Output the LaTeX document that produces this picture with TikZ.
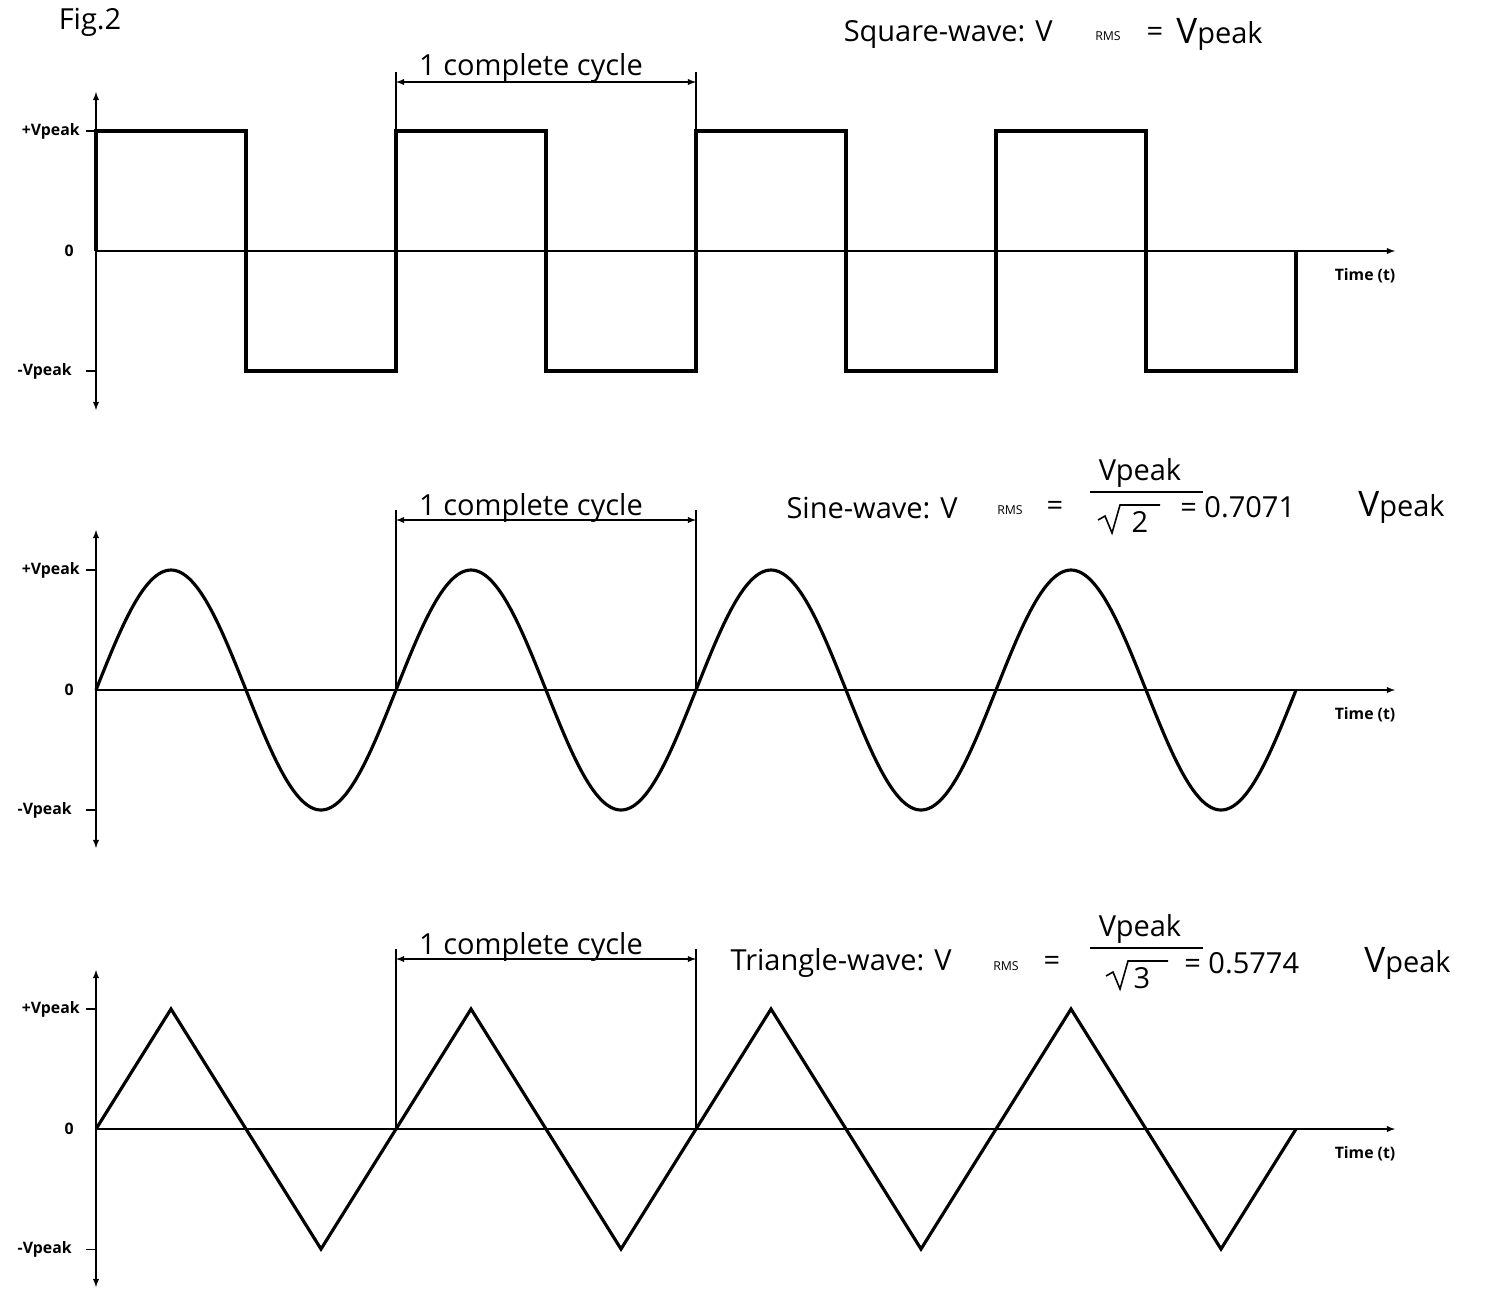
\documentclass[tikz,border=0pt]{standalone}
\usepackage{fontspec}
\setmainfont{Open Sans}
\begin{document}
\begin{tikzpicture}[x=0.02cm,y=-0.02cm,
 wave/.style={line width=1.8pt,line join=miter},
 ax/.style={line width=0.6pt,-latex},
 dax/.style={line width=0.6pt,latex-latex},
 thin/.style={line width=0.6pt},
 lab/.style={font=\fontsize{9}{10}\selectfont\bfseries,inner sep=0},
 big/.style={font=\fontsize{16.5}{18}\selectfont,inner sep=0},
 rms/.style={font=\fontsize{7}{8}\selectfont,inner sep=0}]
\useasboundingbox (0,0) rectangle (1486,1289);
\node[big] (fig) at (90,22) {Fig.2};
% ---------- Square ----------
\draw[dax] (96,92) -- (96,410);
\draw[ax] (96,251) -- (1395,251);
\draw[thin] (86,131) -- (96,131) (86,371) -- (96,371);
\node[lab,anchor=east] at (80,131) {+Vpeak};
\node[lab,anchor=east] at (74,251) {0};
\node[lab,anchor=east] at (72,371) {-Vpeak};
\node[lab] at (1365,276) {Time (t)};
\draw[wave] (96,251) -- (96,131) -- (246,131) -- (246,371) -- (396,371) -- (396,131) -- (546,131) -- (546,371) -- (696,371) -- (696,131) -- (846,131) -- (846,371) -- (996,371) -- (996,131) -- (1146,131) -- (1146,371) -- (1296,371) -- (1296,251);
\draw[thin] (396,72) -- (396,131) (696,72) -- (696,131);
\draw[dax] (396,82) -- (696,82);
\node[big] at (531,68) {1 complete cycle};
\node[big,anchor=east] at (1053,34) {Square-wave: V};
\node[rms] at (1108,36) {RMS};
\node[big] at (1155,34) {=};
\node[big,anchor=west] at (1176,34) {{\fontsize{20}{21}\selectfont V}peak};
% ---------- Sine ----------
\draw[dax] (96,530) -- (96,848);
\draw[ax] (96,690) -- (1395,690);
\draw[thin] (86,570) -- (96,570) (86,810) -- (96,810);
\node[lab,anchor=east] at (80,570) {+Vpeak};
\node[lab,anchor=east] at (74,690) {0};
\node[lab,anchor=east] at (72,810) {-Vpeak};
\node[lab] at (1365,715) {Time (t)};
\draw[wave,domain=0:1200,samples=241,smooth] plot ({96+\x},{690-120*sin(\x*1.2)});
\draw[thin] (396,510) -- (396,690) (696,510) -- (696,690);
\draw[dax] (396,520) -- (696,520);
\node[big] at (531,508) {1 complete cycle};
\node[big,anchor=east] at (958,508) {Sine-wave: V};
\node[rms] at (1010,510) {RMS};
\node[big] at (1055,508) {=};
\node[big] at (1140,473) {Vpeak};
\draw[line width=1.4pt] (1090,492) -- (1203,492);
\draw[line width=0.9pt] (1098,520) -- (1105,516) -- (1112,533) -- (1120,505) -- (1160,505);
\node[big] at (1140,522) {2};
\node[big,anchor=west] at (1180,507) {= 0.7071};
\node[big,anchor=west] at (1358,507) {{\fontsize{20}{21}\selectfont V}peak};
% ---------- Triangle ----------
\draw[dax] (96,970) -- (96,1287);
\draw[ax] (96,1129) -- (1395,1129);
\draw[line width=1.4pt] (86,1009) -- (96,1009);
\draw[thin] (86,1249) -- (96,1249);
\node[lab,anchor=east] at (80,1009) {+Vpeak};
\node[lab,anchor=east] at (74,1129) {0};
\node[lab,anchor=east] at (72,1249) {-Vpeak};
\node[lab] at (1365,1154) {Time (t)};
\draw[wave] (96,1129) -- (171,1009) -- (321,1249) -- (471,1009) -- (621,1249) -- (771,1009) -- (921,1249) -- (1071,1009) -- (1221,1249) -- (1296,1129);
\draw[thin] (396,949) -- (396,1129) (696,949) -- (696,1129);
\draw[dax] (396,959) -- (696,959);
\node[big] at (531,947) {1 complete cycle};
\node[big,anchor=east] at (952,963) {Triangle-wave: V};
\node[rms] at (1006,966) {RMS};
\node[big] at (1052,963) {=};
\node[big] at (1140,929) {Vpeak};
\draw[line width=1.4pt] (1090,948) -- (1203,948);
\draw[line width=0.9pt] (1106,976) -- (1113,972) -- (1120,989) -- (1128,961) -- (1168,961);
\node[big] at (1142,978) {3};
\node[big,anchor=west] at (1184,963) {= 0.5774};
\node[big,anchor=west] at (1364,963) {{\fontsize{20}{21}\selectfont V}peak};
\end{tikzpicture}
\end{document}
